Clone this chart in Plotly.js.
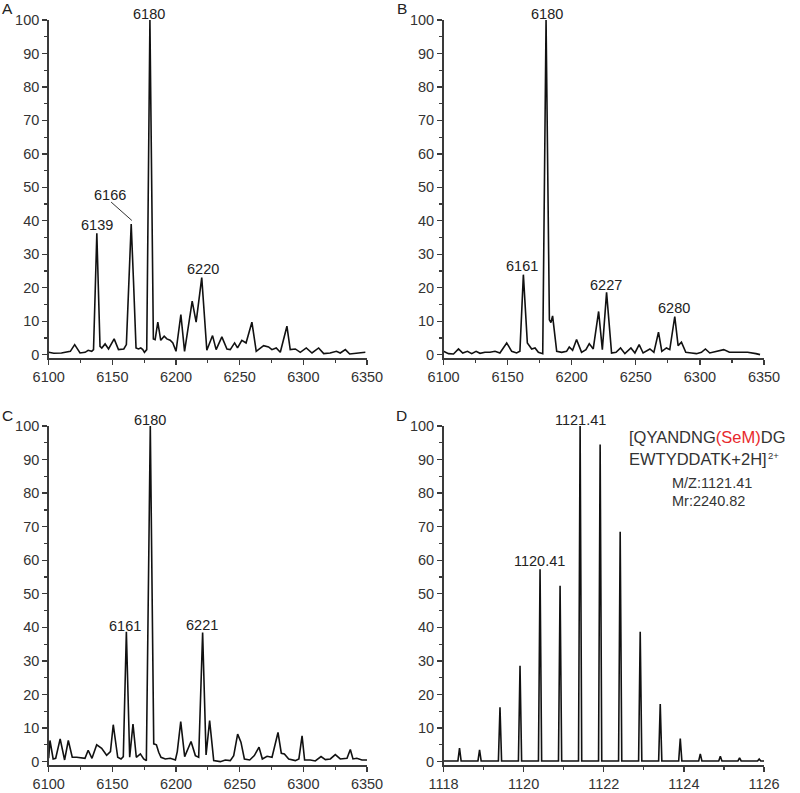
<!DOCTYPE html>
<html>
<head>
<meta charset="utf-8">
<script src="https://cdn.plot.ly/plotly-3.0.1.min.js"></script>
<style>html,body{margin:0;padding:0;background:#fff;}#chart{width:800px;height:793px;}</style>
</head>
<body>
<div id="chart"></div>
<script>
// ---- Data: [m/z, relative intensity %] ----
const spectrumA = [
  [6100,0.7],[6104,0.4],[6110,0.5],[6114,0.8],[6117,1.0],[6120.4,3.0],[6124.6,0.5],[6128.6,0.7],
  [6131,1.3],[6133.8,1.0],[6135.2,1.5],[6136.6,20],[6137.8,36.3],[6139,20],[6140.3,2.5],[6141.7,2.0],
  [6144.3,3.2],[6147,1.7],[6151.4,4.7],[6154.8,1.5],[6159,1.7],[6161,3.0],[6163.2,25],[6164.8,39],
  [6166.6,22],[6168.6,2.0],[6170.5,1.7],[6172.3,2.0],[6173.9,1.5],[6175.2,0.7],[6177,1.5],[6179.5,100],
  [6182.2,4.7],[6183.6,4.5],[6185.7,9.7],[6188,4.3],[6190.7,5.5],[6192.8,4.7],[6195.4,4.3],[6197.5,3.5],
  [6200,1.0],[6203.8,12],[6206.7,1.0],[6212.7,16],[6215.8,9.7],[6220.2,23],[6224.2,1.3],[6228.7,5.7],
  [6231.5,1.5],[6236,5.3],[6240,1.7],[6242.6,1.5],[6246,3.5],[6248.3,2.0],[6251.7,4.3],[6255,3.5],
  [6259.6,9.7],[6263,1.0],[6268.8,2.7],[6272.7,2.3],[6275.3,1.5],[6278.7,2.0],[6281.9,0.7],[6287.1,8.5],
  [6289.7,1.5],[6293.7,1.7],[6297.6,0.7],[6302.3,2.0],[6306.8,0.5],[6312,2.0],[6316,0.3],[6321,0.5],
  [6326,1.0],[6329,0.5],[6333,1.5],[6336.4,0.2],[6348.7,0.7]
];
const spectrumB = [
  [6100,1.0],[6101.3,0.7],[6103.9,0.3],[6107.8,0.2],[6111.7,1.7],[6115,0.5],[6118.7,1.0],[6122,0.3],
  [6125.4,1.0],[6128.5,0.4],[6132.3,0.7],[6136.2,0.7],[6140.2,1.0],[6144,0.5],[6149.3,3.5],[6153.2,1.0],
  [6157,0.5],[6159.6,1.0],[6162.3,23.9],[6165.4,3.5],[6168.8,1.7],[6171.4,2.0],[6174,0.7],[6177.4,0.3],
  [6180,100],[6182.6,10.4],[6183.8,9.6],[6185.1,11.6],[6188.3,1.0],[6192.2,0.7],[6196,1.0],[6198.1,2.3],
  [6200.7,1.3],[6203.8,4.5],[6207.7,0.7],[6211.1,1.5],[6213.7,3.3],[6216.8,1.7],[6221,12.9],[6223.9,1.5],
  [6227.2,18.6],[6231.1,0.5],[6234.6,0.7],[6238.1,2.0],[6241.5,0.3],[6246.2,2.0],[6249.3,0.5],[6252.6,3.0],
  [6255.7,0.5],[6261,1.7],[6264.1,0.7],[6267.7,6.7],[6270.3,1.0],[6273.9,2.0],[6276.5,1.5],[6280.4,11.4],
  [6283,2.7],[6285.6,3.7],[6289,0.7],[6293.4,0.5],[6297.3,0.3],[6301.2,0.7],[6304.3,1.7],[6307.7,0.5],
  [6312.9,1.0],[6318.6,1.5],[6323,0.7],[6326.8,0.7],[6332,0.7],[6337.2,0.7],[6343.7,0.3],[6346.9,0.0]
];
const spectrumC = [
  [6100,1.0],[6101,6.3],[6103.5,0.8],[6105.5,1.0],[6109,6.8],[6112.5,0.5],[6115.4,6.3],[6118.5,1.3],
  [6122,1.3],[6126,1.2],[6128.5,1.0],[6131,3.4],[6134,1.0],[6137.7,5.0],[6139.5,4.6],[6141.6,4.0],
  [6145.5,1.9],[6148.5,3.0],[6150.7,11.0],[6154.2,1.3],[6156.8,0.8],[6158.6,1.5],[6161,38.7],[6163.6,1.3],
  [6166.2,11.2],[6168.8,1.3],[6172,2.3],[6174.6,0.8],[6176.7,0.3],[6179.8,100],[6182.5,5.3],[6184.6,5.0],
  [6186.4,2.8],[6188.2,1.3],[6191.6,0.8],[6195.5,1.0],[6199.5,0.5],[6201,3.0],[6203.7,11.9],[6206.8,1.5],
  [6211.8,6.0],[6215.2,1.8],[6217.8,1.3],[6220.9,38.5],[6223.6,2.0],[6226.4,12.2],[6229.6,0.3],[6234.8,0.0],
  [6238.7,0.5],[6242.6,0.3],[6245.3,1.8],[6248.4,8.2],[6251,5.8],[6253.7,0.8],[6257.9,0.5],[6261.5,1.8],
  [6265.2,4.3],[6267.8,0.8],[6271.5,1.6],[6275.4,1.3],[6280.1,8.7],[6282.7,2.5],[6285.1,2.3],[6288.5,0.8],
  [6293.7,0.3],[6296.5,0.8],[6299,7.7],[6301,0.5],[6305.5,0.5],[6309.4,0.2],[6313.9,1.5],[6317.3,0.6],
  [6321.2,0.8],[6325.1,2.1],[6329,0.8],[6334.3,1.0],[6336.9,3.6],[6339,0.8],[6342,1.0],[6346,0.5],[6350,0.5]
];
const spectrumD = [
  [1118.0,0.2],[1118.36,0.2],[1118.40,4.0],[1118.44,0.2],[1118.86,0.2],[1118.90,3.5],[1118.94,0.2],
  [1119.37,0.2],[1119.41,16.2],[1119.45,0.2],[1119.87,0.2],[1119.91,28.6],[1119.95,0.2],
  [1120.37,0.2],[1120.41,57.3],[1120.45,0.2],[1120.87,0.2],[1120.91,52.4],[1120.95,0.2],
  [1121.37,0.2],[1121.41,100],[1121.45,0.2],[1121.87,0.2],[1121.91,94.5],[1121.95,0.2],
  [1122.37,0.2],[1122.41,68.5],[1122.45,0.2],[1122.87,0.2],[1122.91,38.7],[1122.95,0.2],
  [1123.37,0.2],[1123.41,17.2],[1123.45,0.2],[1123.87,0.2],[1123.91,6.9],[1123.95,0.2],
  [1124.37,0.2],[1124.41,2.3],[1124.45,0.2],[1124.87,0.2],[1124.91,1.6],[1124.95,0.2],
  [1125.35,0.2],[1125.39,1.1],[1125.43,0.2],[1125.84,0.2],[1125.88,0.8],[1125.92,0.2],[1126.0,0.2]
];

// Peak labels: [text, x, y]
const labelsA = [["6139",6138.3,38.8],["6166",6148.2,47.8],["6220",6220.8,25.6]];
const labelsB = [["6161",6161.6,26.4],["6227",6226.4,20.9],["6280",6279.6,13.9]];
const labelsC = [["6161",6160.2,40.5],["6221",6220.4,40.7]];
const labelsD = [["1120.41",1120.39,59.8]];
const topLabels = [["6180",6178.9,"x","y"],["6180",6180.5,"x2","y2"],["6180",6179.8,"x3","y3"],["1121.41",1121.41,"x4","y4"]];
const panelLetters = ["A","B","C","D"];

const FONT = 'Arial, "Liberation Sans", sans-serif';
const AXC = '#3a3a3a';

function trace(spec, xa, ya) {
  return {
    x: spec.map(p => p[0]), y: spec.map(p => p[1]),
    xaxis: xa, yaxis: ya, type: 'scatter', mode: 'lines',
    line: {color: '#111', width: 1.6}, hoverinfo: 'skip'
  };
}
const data = [
  trace(spectrumA, 'x', 'y'), trace(spectrumB, 'x2', 'y2'),
  trace(spectrumC, 'x3', 'y3'), trace(spectrumD, 'x4', 'y4')
];

function xAxis(range, dtick, minor, domain, anchor) {
  return {
    range: range, domain: domain, anchor: anchor, tickmode: 'linear', tick0: range[0], dtick: dtick,
    ticks: 'outside', ticklen: 5, tickwidth: 1.3, tickcolor: AXC,
    showline: true, linecolor: AXC, linewidth: 1.5, showgrid: false, zeroline: false,
    minor: {dtick: minor, ticks: 'outside', ticklen: 3, tickwidth: 1.2, tickcolor: AXC, showgrid: false},
    tickfont: {family: FONT, size: 14.5, color: '#333'}, fixedrange: true
  };
}
function yAxis(domain, anchor) {
  return {
    range: [-1, 100], domain: domain, anchor: anchor, tickmode: 'linear', tick0: 0, dtick: 10,
    ticks: 'outside', ticklen: 5, tickwidth: 1.3, tickcolor: AXC,
    showline: true, linecolor: AXC, linewidth: 1.5, showgrid: false, zeroline: false,
    minor: {dtick: 5, ticks: 'outside', ticklen: 3, tickwidth: 1.2, tickcolor: AXC, showgrid: false},
    tickfont: {family: FONT, size: 14.5, color: '#333'}, fixedrange: true
  };
}

const W = 800, H = 793;
const dxL = [48.7 / W, 367 / W], dxR = [443.5 / W, 764 / W];
const dyT = [1 - 358 / H, 1 - 20 / H], dyB = [1 - 765 / H, 1 - 426 / H];

const annotations = [];
function addLabels(list, xa, ya) {
  list.forEach(l => annotations.push({
    text: l[0], x: l[1], y: l[2], xref: xa, yref: ya, showarrow: false,
    xanchor: 'center', yanchor: 'middle', font: {family: FONT, size: 14.5, color: '#222'}
  }));
}
addLabels(labelsA, 'x', 'y');
addLabels(labelsB, 'x2', 'y2');
addLabels(labelsC, 'x3', 'y3');
addLabels(labelsD, 'x4', 'y4');
topLabels.forEach(l => annotations.push({
  text: l[0], x: l[1], y: 100, xref: l[2], yref: l[3], showarrow: false,
  xanchor: 'center', yanchor: 'bottom', yshift: -4, font: {family: FONT, size: 14.5, color: '#222'}
}));
const letterPos = [[7, 9], [402, 9], [7, 415], [402, 415]];
panelLetters.forEach((t, i) => annotations.push({
  text: t, x: letterPos[i][0] / W, y: 1 - letterPos[i][1] / H, xref: 'paper', yref: 'paper',
  showarrow: false, xanchor: 'center', yanchor: 'middle', font: {family: FONT, size: 15.5, color: '#222'}
}));
// Peptide description in panel D
annotations.push({
  text: '[QYANDNG<span style="color:#e8282c">(SeM)</span>DG', x: 628 / W, y: 1 - 437 / H,
  xref: 'paper', yref: 'paper', showarrow: false, xanchor: 'left', yanchor: 'middle', borderpad: 0,
  font: {family: FONT, size: 16.5, color: '#333'}
});
annotations.push({
  text: 'EWTYDDATK+2H]', x: 628 / W, y: 1 - 459 / H,
  xref: 'paper', yref: 'paper', showarrow: false, xanchor: 'left', yanchor: 'middle', borderpad: 0,
  font: {family: FONT, size: 16.5, color: '#333'}
});
annotations.push({
  text: '2+', x: 767 / W, y: 1 - 455 / H,
  xref: 'paper', yref: 'paper', showarrow: false, xanchor: 'left', yanchor: 'middle', borderpad: 0,
  font: {family: FONT, size: 9.5, color: '#333'}
});
annotations.push({
  text: 'M/Z:1121.41', x: 671 / W, y: 1 - 483 / H, xref: 'paper', yref: 'paper', borderpad: 0,
  showarrow: false, xanchor: 'left', yanchor: 'middle', font: {family: FONT, size: 14.5, color: '#333'}
});
annotations.push({
  text: 'Mr:2240.82', x: 671 / W, y: 1 - 501 / H, xref: 'paper', yref: 'paper', borderpad: 0,
  showarrow: false, xanchor: 'left', yanchor: 'middle', font: {family: FONT, size: 14.5, color: '#333'}
});

const layout = {
  width: W, height: H, margin: {l: 0, r: 0, t: 0, b: 0},
  paper_bgcolor: '#fff', plot_bgcolor: '#fff', showlegend: false,
  font: {family: FONT, size: 14.5, color: '#333'},
  xaxis: xAxis([6100, 6350], 50, 25, dxL, 'y'),
  yaxis: yAxis(dyT, 'x'),
  xaxis2: xAxis([6100, 6350], 50, 25, dxR, 'y2'),
  yaxis2: yAxis(dyT, 'x2'),
  xaxis3: xAxis([6100, 6350], 50, 25, dxL, 'y3'),
  yaxis3: yAxis(dyB, 'x3'),
  xaxis4: xAxis([1118, 1126], 2, 1, dxR, 'y4'),
  yaxis4: yAxis(dyB, 'x4'),
  annotations: annotations,
  shapes: [{type: 'line', xref: 'x', yref: 'y', x0: 6149, y0: 45.6, x1: 6165.3, y1: 40.1,
            line: {color: '#333', width: 1}}]
};

Plotly.newPlot('chart', data, layout, {staticPlot: true, displayModeBar: false});
</script>
</body>
</html>
